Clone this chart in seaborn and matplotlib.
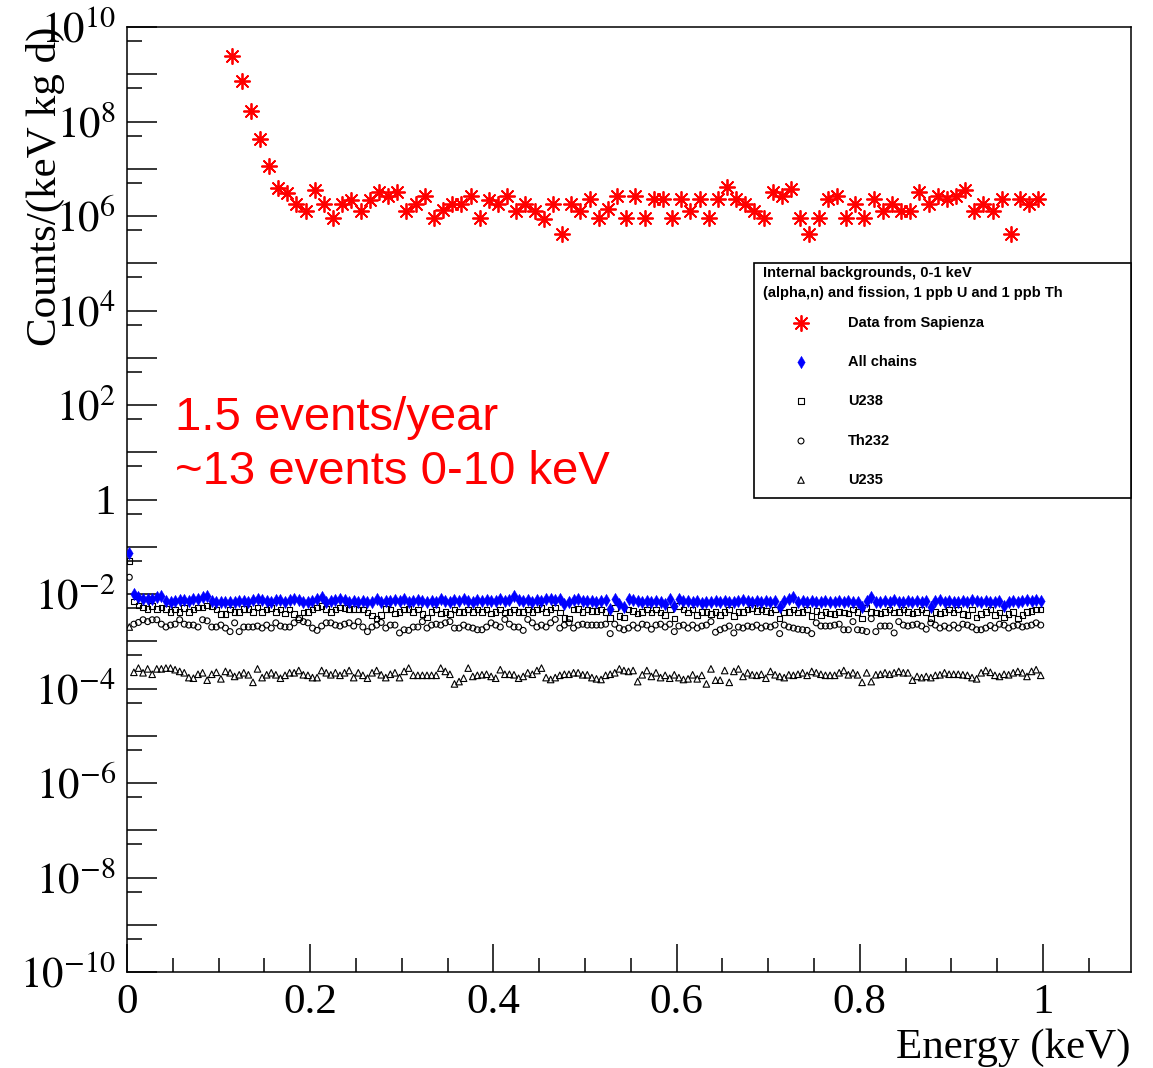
import numpy as np
import pandas as pd
import matplotlib
matplotlib.use("Agg")
import matplotlib.pyplot as plt
from matplotlib.ticker import FixedLocator, FixedFormatter, NullFormatter
from matplotlib.patches import Rectangle
import seaborn as sns

# ---------------- data ----------------
# Data from Sapienza: 0.01 keV bins, first bin centre 0.115 keV
sapienza_counts = [
    2.4e9, 7.1e8, 1.66e8, 4.3e7, 1.14e7, 4.0e6, 3.1e6, 1.77e6, 1.29e6, 3.5e6,
    1.77e6, 9.2e5, 1.77e6, 2.2e6, 1.29e6, 2.2e6, 3.25e6, 2.67e6, 3.2e6, 1.29e6,
    1.77e6, 2.65e6, 9.2e5, 1.35e6, 1.77e6, 1.77e6, 2.65e6, 9.2e5, 2.2e6, 1.81e6,
    2.65e6, 1.29e6, 1.83e6, 1.28e6, 8.8e5, 1.83e6, 4.25e5, 1.83e6, 1.28e6, 2.25e6,
    9.1e5, 1.39e6, 2.65e6, 9.1e5, 2.65e6, 9.1e5, 2.25e6, 2.25e6, 9.1e5, 2.25e6,
    1.28e6, 2.25e6, 9.1e5, 2.25e6, 4.1e6, 2.25e6, 1.83e6, 1.28e6, 8.9e5, 3.2e6,
    2.65e6, 3.8e6, 9.1e5, 4.25e5, 9.1e5, 2.25e6, 2.65e6, 9.1e5, 1.83e6, 9.1e5,
    2.25e6, 1.28e6, 1.83e6, 1.28e6, 1.28e6, 3.2e6, 1.83e6, 2.65e6, 2.25e6, 2.65e6,
    3.5e6, 1.28e6, 1.83e6, 1.28e6, 2.25e6, 4.25e5, 2.25e6, 1.83e6, 2.25e6]
sapienza_energy = np.round(0.115 + 0.01 * np.arange(len(sapienza_counts)), 4)

# Simulated chains: 0.005 keV bins from 0 to 1 keV
all_chains = [
    7.5e-2, 1.0e-2, 8.5e-3, 8.0e-3, 8.0e-3, 8.0e-3, 8.5e-3, 9.2e-3, 7.2e-3, 6.9e-3,
    7.2e-3, 7.6e-3, 7.6e-3, 7.2e-3, 7.8e-3, 8.0e-3, 8.5e-3, 9.2e-3, 7.2e-3, 6.65e-3,
    6.65e-3, 6.9e-3, 6.9e-3, 6.9e-3, 7.2e-3, 7.2e-3, 6.9e-3, 7.6e-3, 8.0e-3, 7.6e-3,
    7.2e-3, 6.9e-3, 7.6e-3, 7.6e-3, 6.9e-3, 7.6e-3, 7.8e-3, 7.6e-3, 6.9e-3, 6.65e-3,
    7.2e-3, 8.0e-3, 8.5e-3, 6.9e-3, 7.2e-3, 7.6e-3, 8.0e-3, 7.6e-3, 6.9e-3, 7.2e-3,
    6.9e-3, 7.2e-3, 6.65e-3, 6.9e-3, 8.0e-3, 6.9e-3, 7.2e-3, 7.2e-3, 7.6e-3, 7.2e-3,
    8.0e-3, 6.9e-3, 7.2e-3, 7.6e-3, 7.2e-3, 6.9e-3, 7.2e-3, 6.9e-3, 8.0e-3, 7.2e-3,
    6.9e-3, 7.6e-3, 7.2e-3, 8.0e-3, 7.2e-3, 6.9e-3, 7.6e-3, 7.2e-3, 7.6e-3, 7.2e-3,
    7.2e-3, 7.8e-3, 7.2e-3, 7.6e-3, 8.9e-3, 7.6e-3, 7.2e-3, 7.6e-3, 6.9e-3, 7.6e-3,
    7.2e-3, 7.8e-3, 8.0e-3, 7.6e-3, 8.0e-3, 6.1e-3, 6.9e-3, 7.6e-3, 7.8e-3, 7.2e-3,
    7.2e-3, 7.2e-3, 6.9e-3, 7.2e-3, 7.6e-3, 4.7e-3, 8.0e-3, 6.1e-3, 5.2e-3, 8.0e-3,
    7.6e-3, 7.2e-3, 6.9e-3, 7.2e-3, 6.9e-3, 7.2e-3, 6.9e-3, 6.1e-3, 8.0e-3, 5.5e-3,
    8.0e-3, 7.2e-3, 7.2e-3, 6.9e-3, 7.2e-3, 6.4e-3, 6.65e-3, 6.9e-3, 7.2e-3, 6.9e-3,
    7.2e-3, 6.65e-3, 6.9e-3, 7.2e-3, 7.6e-3, 7.2e-3, 6.9e-3, 7.2e-3, 6.9e-3, 7.2e-3,
    6.9e-3, 7.2e-3, 5.2e-3, 7.2e-3, 8.0e-3, 8.5e-3, 6.9e-3, 7.2e-3, 6.65e-3, 7.2e-3,
    6.65e-3, 6.9e-3, 7.2e-3, 6.9e-3, 6.65e-3, 7.2e-3, 6.9e-3, 7.2e-3, 6.65e-3, 6.9e-3,
    5.2e-3, 7.2e-3, 8.5e-3, 6.9e-3, 6.65e-3, 7.2e-3, 6.9e-3, 7.6e-3, 6.9e-3, 6.65e-3,
    7.2e-3, 6.9e-3, 7.2e-3, 6.9e-3, 7.2e-3, 5.2e-3, 7.2e-3, 7.6e-3, 6.9e-3, 7.2e-3,
    6.65e-3, 6.9e-3, 7.2e-3, 6.9e-3, 7.6e-3, 7.2e-3, 6.9e-3, 7.2e-3, 6.9e-3, 6.65e-3,
    7.2e-3, 5.5e-3, 6.9e-3, 7.2e-3, 6.65e-3, 7.2e-3, 7.6e-3, 7.2e-3, 7.6e-3, 7.2e-3]

u238 = [
    5.0e-2, 6.9e-3, 5.65e-3, 5.2e-3, 4.8e-3, 5.5e-3, 4.8e-3, 5.2e-3, 4.8e-3, 4.2e-3,
    4.7e-3, 4.2e-3, 5.0e-3, 4.2e-3, 4.7e-3, 5.2e-3, 5.2e-3, 5.65e-3, 5.5e-3, 4.7e-3,
    3.8e-3, 3.8e-3, 4.7e-3, 4.2e-3, 4.2e-3, 4.8e-3, 4.8e-3, 4.2e-3, 5.2e-3, 4.2e-3,
    4.7e-3, 5.0e-3, 4.2e-3, 4.7e-3, 3.9e-3, 4.7e-3, 3.8e-3, 3.2e-3, 4.1e-3, 4.2e-3,
    4.7e-3, 5.2e-3, 5.5e-3, 4.8e-3, 4.2e-3, 4.7e-3, 5.2e-3, 5.0e-3, 4.7e-3, 4.8e-3,
    4.7e-3, 4.7e-3, 4.1e-3, 3.5e-3, 3.0e-3, 3.6e-3, 4.8e-3, 4.7e-3, 3.9e-3, 4.2e-3,
    4.7e-3, 4.8e-3, 4.2e-3, 4.7e-3, 3.8e-3, 3.2e-3, 4.2e-3, 4.7e-3, 3.9e-3, 4.2e-3,
    3.8e-3, 4.7e-3, 4.2e-3, 4.2e-3, 4.7e-3, 4.2e-3, 4.7e-3, 4.2e-3, 4.7e-3, 3.9e-3,
    4.2e-3, 4.7e-3, 4.1e-3, 4.2e-3, 4.7e-3, 4.2e-3, 4.2e-3, 4.7e-3, 4.2e-3, 4.7e-3,
    5.0e-3, 4.2e-3, 4.7e-3, 5.2e-3, 4.1e-3, 3.1e-3, 3.0e-3, 4.7e-3, 4.8e-3, 4.2e-3,
    4.7e-3, 4.4e-3, 4.4e-3, 4.7e-3, 4.2e-3, 3.1e-3, 5.0e-3, 3.4e-3, 3.2e-3, 4.7e-3,
    4.4e-3, 3.9e-3, 4.2e-3, 4.7e-3, 4.1e-3, 4.7e-3, 4.1e-3, 3.6e-3, 4.7e-3, 3.0e-3,
    5.5e-3, 4.7e-3, 4.1e-3, 4.7e-3, 3.6e-3, 4.2e-3, 4.2e-3, 3.8e-3, 4.2e-3, 3.6e-3,
    4.2e-3, 4.7e-3, 3.4e-3, 4.2e-3, 4.2e-3, 4.7e-3, 5.0e-3, 4.4e-3, 4.7e-3, 4.4e-3,
    4.1e-3, 4.7e-3, 3.0e-3, 4.1e-3, 4.2e-3, 4.7e-3, 4.1e-3, 4.2e-3, 4.7e-3, 3.4e-3,
    4.4e-3, 3.6e-3, 4.2e-3, 3.9e-3, 3.8e-3, 4.2e-3, 4.1e-3, 3.9e-3, 4.7e-3, 4.2e-3,
    3.0e-3, 5.0e-3, 4.2e-3, 4.1e-3, 3.9e-3, 4.2e-3, 4.7e-3, 4.1e-3, 4.2e-3, 4.7e-3,
    4.2e-3, 3.9e-3, 4.2e-3, 4.7e-3, 4.1e-3, 3.0e-3, 4.2e-3, 3.9e-3, 4.2e-3, 4.7e-3,
    4.1e-3, 4.7e-3, 3.8e-3, 3.6e-3, 4.7e-3, 3.2e-3, 3.8e-3, 4.2e-3, 4.7e-3, 3.6e-3,
    4.1e-3, 3.2e-3, 3.8e-3, 4.2e-3, 3.0e-3, 3.6e-3, 4.2e-3, 4.4e-3, 4.7e-3, 4.7e-3]

th232 = [
    2.26e-2, 2.3e-3, 2.5e-3, 2.85e-3, 2.6e-3, 2.85e-3, 2.85e-3, 2.3e-3, 2.0e-3, 2.2e-3,
    2.3e-3, 2.85e-3, 2.3e-3, 2.2e-3, 2.2e-3, 2.0e-3, 2.85e-3, 2.7e-3, 2.0e-3, 2.0e-3,
    2.2e-3, 1.9e-3, 1.6e-3, 2.45e-3, 1.6e-3, 2.0e-3, 2.0e-3, 2.0e-3, 2.1e-3, 1.9e-3,
    2.2e-3, 1.9e-3, 2.45e-3, 2.1e-3, 2.0e-3, 2.0e-3, 2.45e-3, 2.85e-3, 2.6e-3, 2.45e-3,
    1.9e-3, 1.7e-3, 2.1e-3, 2.45e-3, 2.45e-3, 2.2e-3, 2.1e-3, 2.3e-3, 2.45e-3, 2.1e-3,
    2.6e-3, 2.0e-3, 1.6e-3, 2.0e-3, 2.2e-3, 2.5e-3, 1.9e-3, 2.2e-3, 2.2e-3, 1.5e-3,
    1.75e-3, 1.7e-3, 2.0e-3, 2.0e-3, 2.6e-3, 1.9e-3, 2.2e-3, 2.3e-3, 2.2e-3, 2.45e-3,
    2.6e-3, 1.9e-3, 1.9e-3, 2.2e-3, 2.0e-3, 1.9e-3, 1.75e-3, 1.75e-3, 2.0e-3, 2.45e-3,
    2.2e-3, 2.0e-3, 2.9e-3, 2.3e-3, 2.0e-3, 2.0e-3, 1.7e-3, 2.9e-3, 2.45e-3, 2.0e-3,
    2.2e-3, 2.0e-3, 2.45e-3, 2.9e-3, 1.9e-3, 2.2e-3, 2.45e-3, 1.9e-3, 2.2e-3, 2.3e-3,
    2.2e-3, 2.2e-3, 2.2e-3, 2.2e-3, 2.3e-3, 1.45e-3, 2.3e-3, 1.9e-3, 1.75e-3, 1.9e-3,
    2.2e-3, 1.9e-3, 2.3e-3, 2.2e-3, 1.8e-3, 2.2e-3, 2.3e-3, 2.0e-3, 2.3e-3, 1.6e-3,
    2.1e-3, 2.2e-3, 1.9e-3, 2.2e-3, 1.9e-3, 2.1e-3, 2.2e-3, 2.6e-3, 1.55e-3, 1.75e-3,
    1.9e-3, 2.1e-3, 1.5e-3, 2.0e-3, 1.9e-3, 2.1e-3, 2.0e-3, 2.2e-3, 1.9e-3, 2.1e-3,
    2.0e-3, 2.2e-3, 1.45e-3, 2.2e-3, 2.0e-3, 1.9e-3, 1.8e-3, 1.75e-3, 1.7e-3, 1.45e-3,
    2.45e-3, 2.1e-3, 2.1e-3, 2.1e-3, 2.2e-3, 2.3e-3, 1.75e-3, 1.75e-3, 2.6e-3, 1.75e-3,
    1.7e-3, 1.6e-3, 3.0e-3, 1.6e-3, 2.1e-3, 2.1e-3, 2.1e-3, 1.5e-3, 2.6e-3, 2.2e-3,
    2.1e-3, 2.2e-3, 2.3e-3, 2.1e-3, 1.8e-3, 2.45e-3, 2.2e-3, 1.9e-3, 2.1e-3, 1.9e-3,
    2.2e-3, 1.9e-3, 2.3e-3, 2.2e-3, 2.0e-3, 1.75e-3, 1.75e-3, 1.9e-3, 2.15e-3, 1.9e-3,
    2.3e-3, 2.2e-3, 1.9e-3, 2.1e-3, 2.2e-3, 2.0e-3, 2.1e-3, 2.2e-3, 2.45e-3, 2.2e-3]

u235 = [
    2.0e-3, 2.2e-4, 2.7e-4, 2.15e-4, 2.6e-4, 2.0e-4, 2.6e-4, 2.6e-4, 2.7e-4, 2.7e-4,
    2.5e-4, 2.3e-4, 2.15e-4, 1.7e-4, 1.65e-4, 2.0e-4, 2.15e-4, 1.5e-4, 2.0e-4, 2.2e-4,
    1.6e-4, 2.3e-4, 2.15e-4, 1.8e-4, 1.95e-4, 2.15e-4, 1.95e-4, 1.35e-4, 2.6e-4, 1.7e-4,
    1.95e-4, 2.15e-4, 1.95e-4, 1.65e-4, 1.9e-4, 2.15e-4, 2.15e-4, 2.4e-4, 1.95e-4, 1.9e-4,
    1.7e-4, 1.7e-4, 2.4e-4, 2.15e-4, 1.95e-4, 2.15e-4, 1.9e-4, 2.15e-4, 2.4e-4, 1.7e-4,
    2.15e-4, 1.9e-4, 1.65e-4, 2.15e-4, 2.4e-4, 1.95e-4, 1.7e-4, 2.0e-4, 2.15e-4, 1.7e-4,
    2.3e-4, 2.7e-4, 1.9e-4, 1.9e-4, 1.9e-4, 1.9e-4, 1.9e-4, 1.9e-4, 2.7e-4, 2.3e-4,
    2.0e-4, 1.25e-4, 1.4e-4, 1.65e-4, 2.7e-4, 1.8e-4, 1.9e-4, 1.95e-4, 2.0e-4, 1.8e-4,
    1.65e-4, 2.5e-4, 2.0e-4, 2.0e-4, 1.95e-4, 1.65e-4, 1.8e-4, 2.15e-4, 2.0e-4, 2.4e-4,
    2.7e-4, 1.7e-4, 1.55e-4, 1.7e-4, 1.9e-4, 2.0e-4, 2.0e-4, 2.15e-4, 2.15e-4, 1.95e-4,
    1.95e-4, 1.7e-4, 1.6e-4, 1.55e-4, 1.9e-4, 2.0e-4, 2.15e-4, 2.6e-4, 2.4e-4, 2.3e-4,
    2.4e-4, 1.4e-4, 1.95e-4, 2.4e-4, 1.8e-4, 2.15e-4, 1.7e-4, 1.9e-4, 1.65e-4, 1.95e-4,
    1.7e-4, 1.55e-4, 1.6e-4, 1.95e-4, 1.6e-4, 1.9e-4, 1.25e-4, 2.6e-4, 1.5e-4, 1.5e-4,
    2.4e-4, 1.35e-4, 2.3e-4, 2.6e-4, 1.8e-4, 2.15e-4, 1.95e-4, 1.9e-4, 2.0e-4, 1.65e-4,
    2.3e-4, 1.95e-4, 1.8e-4, 1.7e-4, 1.95e-4, 1.9e-4, 2.0e-4, 2.15e-4, 1.9e-4, 2.3e-4,
    2.15e-4, 2.0e-4, 1.9e-4, 1.9e-4, 1.9e-4, 2.15e-4, 2.4e-4, 1.95e-4, 2.15e-4, 1.95e-4,
    1.35e-4, 2.15e-4, 1.4e-4, 1.95e-4, 2.0e-4, 2.15e-4, 2.0e-4, 2.15e-4, 2.3e-4, 2.15e-4,
    2.15e-4, 1.5e-4, 1.8e-4, 1.7e-4, 1.8e-4, 1.7e-4, 1.9e-4, 1.95e-4, 2.15e-4, 2.0e-4,
    2.0e-4, 2.0e-4, 1.95e-4, 1.9e-4, 1.7e-4, 1.6e-4, 2.15e-4, 2.4e-4, 2.2e-4, 1.9e-4,
    1.8e-4, 2.0e-4, 1.95e-4, 2.15e-4, 2.3e-4, 2.15e-4, 1.8e-4, 2.3e-4, 2.5e-4, 1.9e-4]

sim_energy = np.round(0.0025 + 0.005 * np.arange(len(all_chains)), 4)

legend_title = ["Internal backgrounds, 0-1 keV",
                "(alpha,n) and fission, 1 ppb U and 1 ppb Th"]
legend_labels = ["Data from Sapienza", "All chains", "U238", "Th232", "U235"]
annotation = ["1.5 events/year", "~13 events 0-10 keV"]
x_ticks = [0, 0.2, 0.4, 0.6, 0.8, 1.0]
x_ticklabels = ["0", "0.2", "0.4", "0.6", "0.8", "1"]
y_decades = list(range(-10, 11))

# ---------------- figure ----------------
W, H = 1153, 1068
plt.rcParams["mathtext.fontset"] = "stix"
serif = ["Liberation Serif", "DejaVu Serif"]
sans = ["Liberation Sans", "DejaVu Sans"]

fig = plt.figure(figsize=(W / 100, H / 100), dpi=100)
L, R, T, B = 127, 1131, 27, 972
ax = fig.add_axes([L / W, 1 - B / H, (R - L) / W, (B - T) / H])

df_sim = pd.DataFrame({"E": sim_energy, "all": all_chains, "u238": u238,
                       "th232": th232, "u235": u235})
df_data = pd.DataFrame({"E": sapienza_energy, "counts": sapienza_counts})

STY = {
    "data": dict(marker=(8, 2, 0), s=120, color="red", edgecolor="red", linewidth=1.3),
    "all": dict(marker="d", s=40, color="#0000ff", edgecolor="#0000ff", linewidth=0.3),
    "u238": dict(marker="s", s=16, facecolor="none", edgecolor="black", linewidth=0.8),
    "th232": dict(marker="o", s=18, facecolor="none", edgecolor="black", linewidth=0.8),
    "u235": dict(marker="^", s=22, facecolor="none", edgecolor="black", linewidth=0.8),
}

sns.scatterplot(data=df_sim, x="E", y="u235", ax=ax, zorder=3, **STY["u235"])
sns.scatterplot(data=df_sim, x="E", y="th232", ax=ax, zorder=3, **STY["th232"])
sns.scatterplot(data=df_sim, x="E", y="u238", ax=ax, zorder=3, **STY["u238"])
sns.scatterplot(data=df_sim, x="E", y="all", ax=ax, zorder=4, **STY["all"])
sns.scatterplot(data=df_data, x="E", y="counts", ax=ax, zorder=5, **STY["data"])

ax.set_yscale("log")
ax.set_xlim(0, (R - L) / 916)
ax.set_ylim(1e-10, 1e10)
ax.set_xlabel("")
ax.set_ylabel("")

# ticks (ROOT style: inside, left/bottom only)
ax.yaxis.set_major_locator(FixedLocator([10.0 ** d for d in y_decades]))
ylabels = []
for d in y_decades:
    if d % 2 != 0:
        ylabels.append("")
    elif d == 0:
        ylabels.append("1")
    else:
        ylabels.append(r"$10^{%d}$" % d)
ax.yaxis.set_major_formatter(FixedFormatter(ylabels))
ax.yaxis.set_minor_locator(FixedLocator([5 * 10.0 ** d for d in range(-10, 10)]))
ax.yaxis.set_minor_formatter(NullFormatter())
ax.tick_params(axis="y", which="major", direction="in", length=21.6, width=1.1,
               labelsize=31, pad=8, right=False)
ax.tick_params(axis="y", which="minor", direction="in", length=10.8, width=1.1, right=False)

ax.xaxis.set_major_locator(FixedLocator(x_ticks))
ax.xaxis.set_major_formatter(FixedFormatter(x_ticklabels))
ax.xaxis.set_minor_locator(FixedLocator([0.05 * i for i in range(1, 22)]))
ax.tick_params(axis="x", which="major", direction="in", length=20, width=1.1,
               labelsize=31, pad=8, top=False)
ax.tick_params(axis="x", which="minor", direction="in", length=10, width=1.1, top=False)
for lab in ax.get_xticklabels() + ax.get_yticklabels():
    lab.set_fontfamily(serif)

for sp in ax.spines.values():
    sp.set_linewidth(1.1)
    sp.set_color("black")

# overlay in pixel coordinates for titles, annotation and legend
ov = fig.add_axes([0, 0, 1, 1], facecolor="none")
ov.set_xlim(0, W)
ov.set_ylim(H, 0)
ov.axis("off")

ov.text(45, 27, "Counts/(keV kg d)", rotation=90, ha="center", va="top",
        fontsize=31, family=serif)
ov.text(1131, 1048, "Energy (keV)", ha="right", va="center", fontsize=31, family=serif)

ov.text(175, 418, annotation[0], ha="left", va="center", fontsize=34,
        color="#ff0000", family=sans)
ov.text(175, 472, annotation[1], ha="left", va="center", fontsize=34,
        color="#ff0000", family=sans)

ov.add_patch(Rectangle((754, 263), 1131 - 754, 498 - 263, facecolor="white",
                       edgecolor="black", linewidth=1.2, zorder=10))
ov.text(763, 273, legend_title[0], ha="left", va="center", fontsize=10.5,
        fontweight="bold", family=sans, zorder=11)
ov.text(763, 293, legend_title[1], ha="left", va="center", fontsize=10.5,
        fontweight="bold", family=sans, zorder=11)
rows = [323, 362, 401, 441, 480]
for yy, lab, key in zip(rows, legend_labels, ["data", "all", "u238", "th232", "u235"]):
    st = dict(STY[key])
    ov.scatter([801], [yy], zorder=11, **st)
    ov.text(848, yy, lab, ha="left", va="center", fontsize=10.5,
            fontweight="bold", family=sans, zorder=11)

fig.savefig("out.png", dpi=100)
